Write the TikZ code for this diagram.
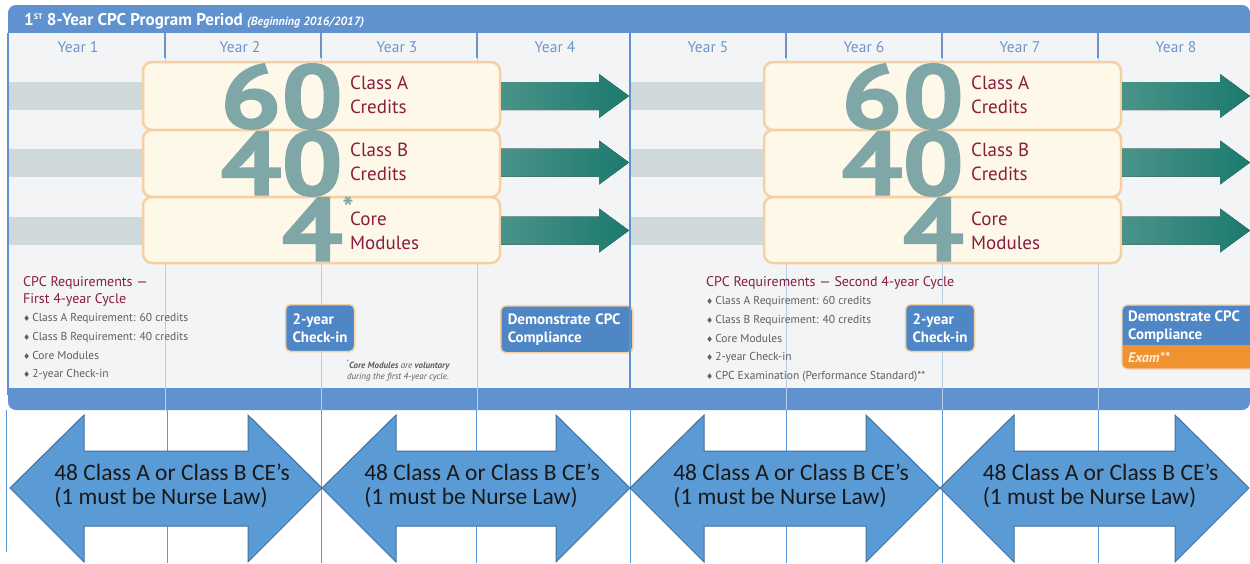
\documentclass[tikz,border=0pt]{standalone}
\usepackage{fontspec}
\setmainfont{PT Sans}
\newfontfamily\cefont{Carlito}
\newfontfamily\symfont{DejaVu Sans}
\newfontfamily\numfont[BoldFeatures={FakeBold=1.5}]{PT Sans}
\usepackage{tikz}
\usetikzlibrary{positioning}

\definecolor{barblue}{HTML}{5F92CE}
\definecolor{yeartxt}{HTML}{6F95C6}
\definecolor{panelbg}{HTML}{F3F4F5}
\definecolor{bandgray}{HTML}{CFD8DB}
\definecolor{cream}{HTML}{FDF8E8}
\definecolor{creamedge}{HTML}{F6D0A4}
\definecolor{numteal}{HTML}{7FA7A8}
\definecolor{wine}{HTML}{8A1C3D}
\definecolor{tealA}{HTML}{4A938A}
\definecolor{tealB}{HTML}{1C7A6E}
\definecolor{reqgray}{HTML}{5E5E5E}
\definecolor{boxblue}{HTML}{4F86C6}
\definecolor{examorange}{HTML}{F0922F}
\definecolor{divline}{HTML}{B9CDE6}
\definecolor{ceblue}{HTML}{5B9BD5}
\definecolor{ceedge}{HTML}{41719C}

\tikzset{
  yearlbl/.style={text=yeartxt, inner sep=0pt, font=\fontsize{15.5}{15.5}\selectfont},
  credbox/.style={fill=cream, draw=creamedge, line width=2.5pt, rounded corners=9pt},
  bignum/.style={text=numteal, anchor=base east, inner sep=0pt, text height=62pt, text depth=0pt, font=\numfont\bfseries\fontsize{90}{90}\selectfont},
  credlbl/.style={text=wine, anchor=west, align=left, inner sep=0pt, font=\fontsize{19}{23.5}\selectfont},
  reqhead/.style={text=wine, anchor=north west, align=left, inner sep=0pt, font=\fontsize{14}{17}\selectfont},
  reqlist/.style={text=reqgray, align=left, inner sep=0pt, font=\fontsize{11.5}{18.7}\selectfont},
  bluebox/.style={fill=boxblue, draw=creamedge, line width=1.5pt, rounded corners=5pt, text=white, align=left, font=\bfseries\fontsize{15}{18}\selectfont},
  tealarrow/.style={left color=tealA, right color=tealB},
  cearrow/.style={fill=ceblue, draw=ceedge, line width=1pt},
  cetext/.style={text=black!90, align=left, inner sep=0pt, font=\cefont\fontsize{23.5}{24.5}\selectfont},
}
\newcommand{\dia}{{\symfont\fontsize{8}{8}\selectfont ♦}\,}

\begin{document}
\begin{tikzpicture}[x=1pt, y=-1pt]
\useasboundingbox (0,0) rectangle (1250,563);
%%% program period panel %%%
\fill[barblue, rounded corners=8pt] (8,5) rectangle (1250,45);
\fill[barblue, rounded corners=8pt] (8,370) rectangle (1250,410);
\fill[panelbg] (9,33) rectangle (1250,388);
\draw[barblue, line width=2pt] (8,33) -- (8,395);

\node[anchor=west, text=white, inner sep=0pt, font=\bfseries\fontsize{17}{17}\selectfont] (title) at (24,21)
  {1{\fontsize{8}{8}\selectfont\raisebox{5.5pt}{ST}} 8-Year CPC Program Period {\itshape\fontsize{12}{12}\selectfont (Beginning 2016/2017)}};

\foreach \x/\n in {78/1,240/2,397/3,555/4,708/5,864/6,1020/7,1176/8}
  \node[yearlbl] (year\n) at (\x,47) {Year \n};

%% grey bands behind the credit boxes
\foreach \o in {0,621}
  \foreach \yc in {96,162.5,230.5}
    \fill[bandgray] (9+\o,\yc-14) rectangle (150+\o,\yc+14);

%% year columns
\foreach \x in {165,321,477,786,942,1098} {
  \draw[divline, line width=0.8pt] (\x,58) -- (\x,388);
  \draw[yeartxt, line width=1.2pt] (\x,33) -- (\x,58);
  \draw[white!55!barblue, line width=0.8pt] (\x,388) -- (\x,410);
}
\draw[barblue, line width=2.5pt] (630,33) -- (630,410);

%% credit boxes, one set per 4-year cycle
\foreach \o [count=\h] in {0,621} {
  \foreach \t/\b in {62/130,130/197,197/263}
    \draw[credbox] (143+\o,\t) rectangle (500+\o,\b);
  \node[bignum] (sixty\h) at (343+\o,128) {\scalebox{1.2}[1]{60}};
  \node[bignum] (forty\h) at (343+\o,195) {\scalebox{1.2}[1]{40}};
  \node[bignum] (four\h) at (343+\o,261) {\scalebox{1.2}[1]{4}};
  \node[credlbl] (clsA\h) at (350+\o,95) {Class A\\Credits};
  \node[credlbl] (clsB\h) at (350+\o,162) {Class B\\Credits};
  \node[credlbl] (core\h) at (350+\o,231) {Core\\Modules};
  \foreach \yc in {96,162.5,230.5}
    \fill[tealarrow] (501+\o,\yc-14) -- (599+\o,\yc-14) -- (599+\o,\yc-22) -- (629+\o,\yc)
      -- (599+\o,\yc+22) -- (599+\o,\yc+14) -- (501+\o,\yc+14) -- cycle;
}
\node[text=numteal, inner sep=0pt, text height=10pt, text depth=0pt, font=\bfseries\fontsize{30}{30}\selectfont] (ast) at (348,213) {*};

%% first 4-year cycle
\node[reqhead] (reqA) at (23,276) {CPC Requirements —\\First 4-year Cycle};
\node[reqlist, below=7pt of reqA.south west, anchor=north west] (listA)
  {\dia Class A Requirement: 60 credits\\\dia Class B Requirement: 40 credits\\\dia Core Modules\\\dia 2-year Check-in};
\node[bluebox, minimum width=69pt, minimum height=47pt] (checkA) at (320,328) {2-year\\Check-in};
\node[text=reqgray, align=center, inner sep=0pt, font=\itshape\fontsize{9}{11.5}\selectfont] (note) at (398,371)
  {\textsuperscript{*}\textbf{Core Modules} are \textbf{voluntary}\\during the first 4-year cycle.};
\node[bluebox, anchor=north west, text width=118pt, inner xsep=7pt, minimum height=47pt] (compA) at (500,305)
  {Demonstrate CPC\\Compliance};
\draw[barblue, line width=2.5pt] (630,300) -- (630,360);

%% second 4-year cycle
\node[reqhead] (reqB) at (706,276) {CPC Requirements — Second 4-year Cycle};
\node[reqlist, below=7pt of reqB.south west, anchor=north west] (listB)
  {\dia Class A Requirement: 60 credits\\\dia Class B Requirement: 40 credits\\\dia Core Modules\\\dia 2-year Check-in\\\dia CPC Examination (Performance Standard)**};
\node[bluebox, minimum width=69pt, minimum height=47pt] (checkB) at (940,328) {2-year\\Check-in};
\begin{scope}
  \clip[rounded corners=5pt] (1122,305) rectangle (1262,369);
  \fill[boxblue] (1122,305) rectangle (1262,345);
  \fill[examorange] (1122,345) rectangle (1262,369);
\end{scope}
\draw[creamedge, line width=1.2pt, rounded corners=5pt] (1122,305) rectangle (1262,369);
\node[anchor=north west, text=white, align=left, inner sep=0pt, font=\bfseries\fontsize{15}{18}\selectfont] (compB) at (1128,311)
  {Demonstrate CPC\\Compliance};
\node[anchor=west, text=orange!15, inner sep=0pt, font=\bfseries\itshape\fontsize{14}{14}\selectfont] (exam) at (1128,357) {Exam**};

%%% continuing education arrows %%%
\draw[ceblue, line width=0.8pt] (6,410) -- (6,552);
\foreach \x in {167,321,476,630,786,942,1098}
  \draw[ceblue, line width=0.8pt] (\x,410) -- (\x,563);
\foreach \a/\b [count=\k] in {10/322,322/630,630/940,940/1249} {
  \draw[cearrow] (\a,488) -- (\a+74,415) -- (\a+74,451) -- (\b-74,451) -- (\b-74,415) -- (\b,488)
    -- (\b-74,562) -- (\b-74,526) -- (\a+74,526) -- (\a+74,562) -- cycle;
  \node[cetext] (ce\k) at ({(\a+\b)/2+6},486) {48 Class A or Class B CE’s\\(1 must be Nurse Law)};
}
\end{tikzpicture}
\end{document}
